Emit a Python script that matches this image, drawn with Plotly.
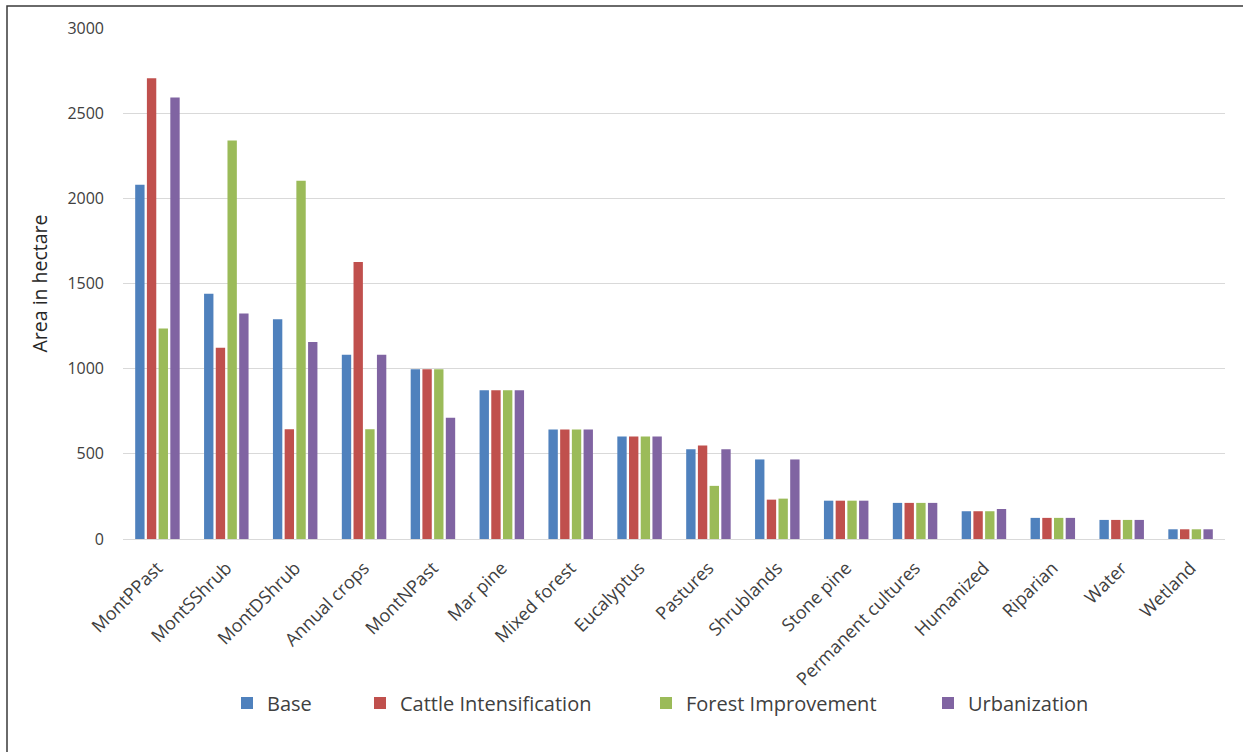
import plotly.graph_objects as go

categories = ["MontPPast", "MontSShrub", "MontDShrub", "Annual crops", "MontNPast",
              "Mar pine", "Mixed forest", "Eucalyptus", "Pastures", "Shrublands",
              "Stone pine", "Permanent cultures", "Humanized", "Riparian", "Water", "Wetland"]

base = [2080, 1440, 1290, 1082, 997, 873, 643, 602, 527, 467, 225, 212, 163, 124, 112, 57]
cattle = [2705, 1123, 645, 1626, 997, 873, 643, 602, 549, 231, 225, 212, 163, 124, 112, 57]
forest = [1236, 2340, 2103, 645, 997, 873, 643, 602, 312, 237, 225, 212, 163, 124, 112, 57]
urban = [2592, 1324, 1156, 1082, 712, 873, 643, 602, 527, 467, 225, 212, 176, 124, 112, 57]

series_names = ["Base", "Cattle Intensification", "Forest Improvement", "Urbanization"]
series_values = [base, cattle, forest, urban]
colors = ["#4F81BD", "#C0504D", "#9BBB59", "#8064A2"]

y_ticks = [0, 500, 1000, 1500, 2000, 2500, 3000]

FONT = "Open Sans"
TXT = "#404040"

W, H = 1243, 752
ml, mr, mt, mb = 123, 18, 28, 213
pw, ph = W - ml - mr, H - mt - mb

legend_ids = ["legend", "legend2", "legend3", "legend4"]
# desired left pixel of each legend entry
legend_left_px = [227, 360, 646, 928]

fig = go.Figure()
for name, vals, col, lid in zip(series_names, series_values, colors, legend_ids):
    fig.add_trace(go.Bar(name=name, x=categories, y=vals, legend=lid,
                         marker=dict(color=col, line=dict(width=0))))

legend_y = (H - mb - 703) / ph
legends = {}
for lid, px in zip(legend_ids, legend_left_px):
    legends[lid] = dict(orientation="h", x=(px - ml) / pw, xanchor="left",
                        y=legend_y, yanchor="middle", bgcolor="rgba(0,0,0,0)",
                        font=dict(size=20, color=TXT, family=FONT), itemwidth=30)

fig.update_layout(
    width=W, height=H,
    margin=dict(l=ml, r=mr, t=mt, b=mb, pad=0),
    paper_bgcolor="white", plot_bgcolor="white",
    barmode="group", bargap=0.32, bargroupgap=0.2,
    font=dict(family=FONT, color=TXT),
    xaxis=dict(tickangle=-45, tickfont=dict(size=18, color=TXT), showgrid=False,
               showline=False, ticks="", zeroline=False, ticklabelstandoff=14),
    yaxis=dict(range=[0, 3000], tickvals=y_ticks, tickfont=dict(size=16, color=TXT),
               showgrid=True, gridcolor="#D9D9D9", gridwidth=1, zeroline=True,
               zerolinecolor="#D9D9D9", zerolinewidth=1, ticks="", ticklabelstandoff=18,
               title=dict(text="Area in hectare", font=dict(size=19.5, color="#262626"), standoff=14)),
    showlegend=True,
    **legends,
)

# chart border (top and left edges visible in the crop)
bx = (7 - ml) / pw
by = (H - mb - 6) / ph
fig.add_shape(type="path", xref="paper", yref="paper",
              path=f"M {bx} -0.5 L {bx} {by} L 1.1 {by}",
              line=dict(color="#3a3a3a", width=1.5))

fig.write_html("out.html")
